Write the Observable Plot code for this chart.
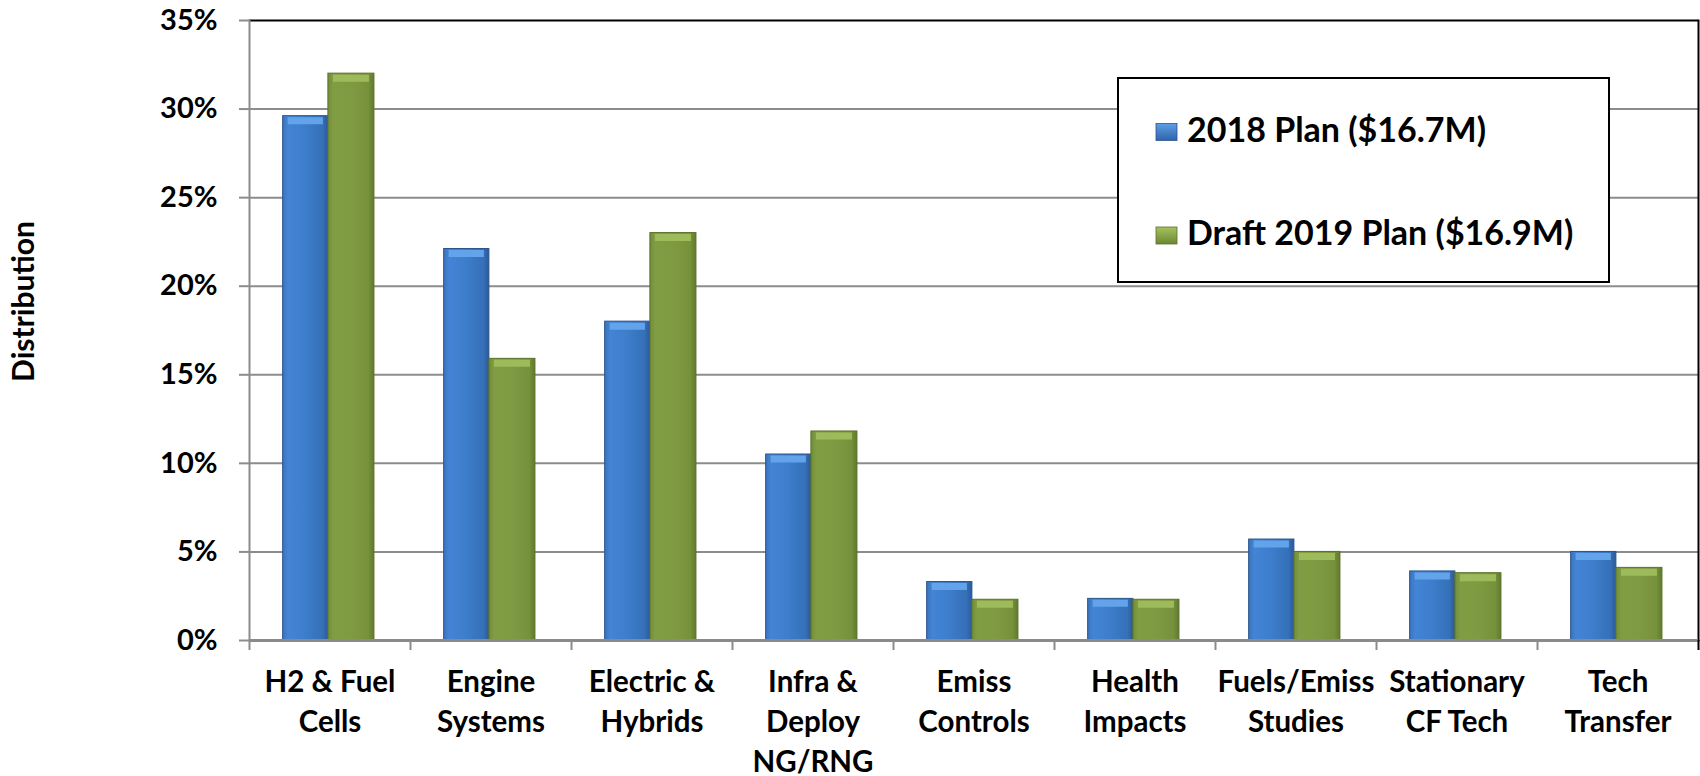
<!DOCTYPE html>
<html>
<head>
<meta charset="utf-8">
<script src="https://cdn.jsdelivr.net/npm/d3@7"></script>
<script src="https://cdn.jsdelivr.net/npm/@observablehq/plot@0.6"></script>
<style>
  html, body { margin: 0; padding: 0; background: #fff; }
  #chart svg { display: block; }
</style>
</head>
<body>
<div id="chart"></div>
<script>
// ---- data ----
const categories = ["H2 & Fuel\nCells", "Engine\nSystems", "Electric &\nHybrids", "Infra &\nDeploy\nNG/RNG", "Emiss\nControls", "Health\nImpacts", "Fuels/Emiss\nStudies", "Stationary\nCF Tech", "Tech\nTransfer"];
const seriesNames = ["2018 Plan ($16.7M)", "Draft 2019 Plan ($16.9M)"];
const plan2018 = [29.6, 22.1, 18.0, 10.5, 3.3, 2.35, 5.7, 3.9, 5.0];
const plan2019 = [32.0, 15.9, 23.0, 11.8, 2.3, 2.3, 5.0, 3.8, 4.1];
const yTicks = [0, 5, 10, 15, 20, 25, 30, 35];
const yLabel = "Distribution";

// ---- layout ----
const W = 1700, H = 776, mL = 249, mR = 2, mT = 20, mB = 136;
const step = (W - mL - mR) / categories.length;
const font = "Lato, 'Open Sans', sans-serif";

const rows2018 = categories.map((c, i) => ({cat: c, series: seriesNames[0], value: plan2018[i]}));
const rows2019 = categories.map((c, i) => ({cat: c, series: seriesNames[1], value: plan2019[i]}));

const blue = {left: 0.209 * step, right: 0.51 * step};
const green = {left: 0.49 * step, right: 0.224 * step};

const chart = Plot.plot({
  width: W, height: H,
  marginLeft: mL, marginRight: mR, marginTop: mT, marginBottom: mB,
  style: {fontFamily: font, fontWeight: "bold", color: "#000", background: "#fff", overflow: "visible"},
  x: {domain: categories, padding: 0},
  y: {domain: [0, 35]},
  marks: [
    Plot.ruleY(yTicks.filter(t => t > 0 && t < 35), {stroke: "#8c8c8c", strokeWidth: 2}),
    Plot.ruleY([35], {stroke: "#000", strokeWidth: 2}),
    Plot.frame({anchor: "right", stroke: "#000", strokeWidth: 2}),
    Plot.frame({anchor: "left", stroke: "#8c8c8c", strokeWidth: 2}),
    Plot.barY(rows2018, {x: "cat", y: "value", fill: "url(#gBlue)", stroke: "#2b548c", strokeWidth: 1,
      insetLeft: blue.left, insetRight: blue.right}),
    Plot.barY(rows2019, {x: "cat", y: "value", fill: "url(#gGreen)", stroke: "#5a7128", strokeWidth: 1,
      insetLeft: green.left, insetRight: green.right}),
    Plot.tickY(rows2018, {x: "cat", y: "value", stroke: "#62a3ea", strokeWidth: 7, dy: 4.5,
      insetLeft: blue.left + 5, insetRight: blue.right + 5}),
    Plot.tickY(rows2019, {x: "cat", y: "value", stroke: "#9dbb5a", strokeWidth: 7, dy: 4.5,
      insetLeft: green.left + 5, insetRight: green.right + 5}),
    Plot.ruleY([0], {stroke: "#8a8a8a", strokeWidth: 3}),
    Plot.axisY({ticks: yTicks, tickSize: 10, tickPadding: 22, tickFormat: d => d + "%",
      stroke: "#8c8c8c", strokeWidth: 2, fill: "#000", fontSize: 29, fontWeight: "bold", label: null}),
    Plot.axisX({tickSize: 10, tickFormat: () => "", dx: -step / 2, stroke: "#8c8c8c", strokeWidth: 2, label: null}),
    Plot.axisX([categories[categories.length - 1]], {tickSize: 10, tickFormat: () => "", dx: step / 2, stroke: "#000", strokeWidth: 2, label: null}),
    Plot.text(categories, {x: d => d, text: d => d, frameAnchor: "bottom", lineAnchor: "top", dy: 23,
      fontSize: 29.5, fontWeight: "bold", lineHeight: 1.36, fill: "#000"}),
    Plot.text([yLabel], {x: null, y: null, text: d => d, frameAnchor: "left", textAnchor: "middle", rotate: -90, dx: -225, dy: -29,
      fontSize: 30, fontWeight: "bold", fill: "#000"})
  ]
});

// gradients
const svg = d3.select(chart);
const defs = svg.insert("defs", ":first-child");
function grad(id, stops, vertical) {
  const g = defs.append("linearGradient").attr("id", id)
    .attr("x1", 0).attr("y1", 0).attr("x2", vertical ? 0 : 1).attr("y2", vertical ? 1 : 0);
  stops.forEach(([o, c]) => g.append("stop").attr("offset", o).attr("stop-color", c));
}
grad("gBlue", [[0, "#3a74bd"], [0.12, "#4384d6"], [0.5, "#3d7dcb"], [0.88, "#3570b8"], [1, "#2b5a98"]], false);
grad("gGreen", [[0, "#728d39"], [0.12, "#819d44"], [0.5, "#7f9b42"], [0.88, "#76913b"], [1, "#5f7a2c"]], false);
grad("gBlueSw", [[0, "#5d9ee6"], [1, "#2f64aa"]], true);
grad("gGreenSw", [[0, "#a6c35e"], [1, "#6c8734"]], true);

// legend
const lg = svg.append("g").attr("class", "legend").attr("text-anchor", "start");
lg.append("rect").attr("x", 1118).attr("y", 78).attr("width", 491).attr("height", 204)
  .attr("fill", "#fff").attr("stroke", "#000").attr("stroke-width", 2);
const swatches = ["url(#gBlueSw)", "url(#gGreenSw)"];
const strokes = ["#2b548c", "#5a7128"];
const rowsY = [141.5, 245];
seriesNames.forEach((name, i) => {
  lg.append("rect").attr("x", 1156).attr("y", rowsY[i] - 18).attr("width", 21).attr("height", 17)
    .attr("fill", swatches[i]).attr("stroke", strokes[i]).attr("stroke-width", 0.8);
  lg.append("text").attr("x", 1187).attr("y", rowsY[i]).text(name).attr("text-anchor", "start")
    .attr("font-family", font).attr("font-weight", "bold").attr("font-size", 34).attr("fill", "#000");
});

document.getElementById("chart").append(chart);
</script>
</body>
</html>
